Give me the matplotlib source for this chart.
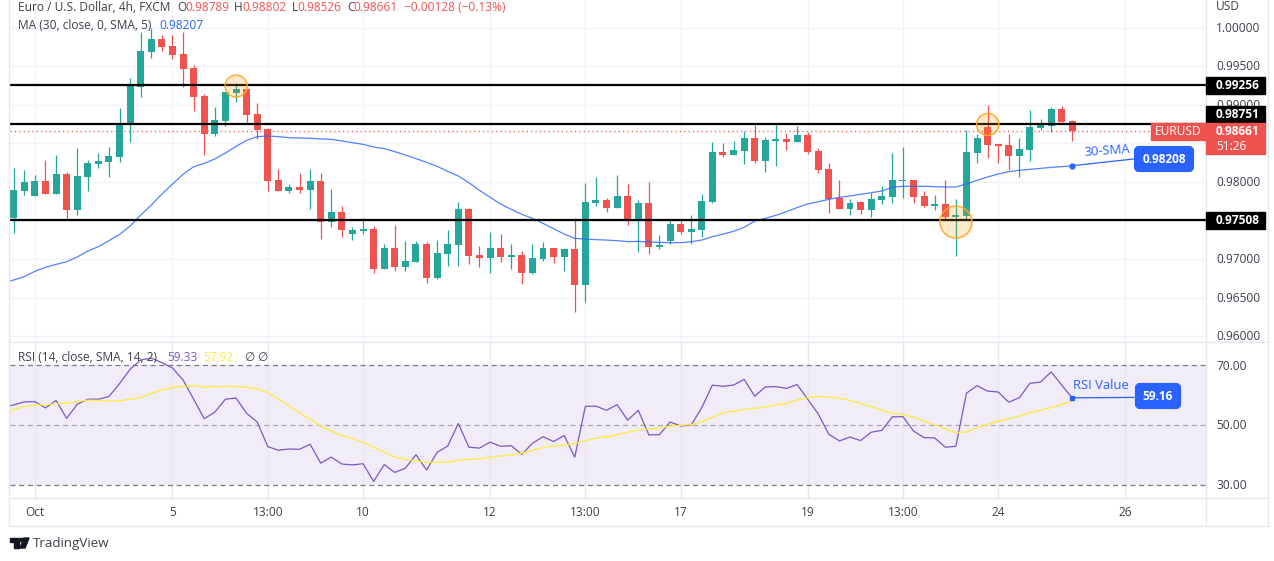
import pandas as pd
import matplotlib.pyplot as plt
import numpy as np
from matplotlib.patches import FancyBboxPatch, Polygon, Rectangle

plt.rcParams['font.family'] = ['Open Sans', 'DejaVu Sans']
plt.rcParams['font.size'] = 8.6

# Candles: open, high, low, close
candles = pd.DataFrame([
    (.97532,.98182,.97342,.97896),(.97883,.98156,.97831,.98000),(.97818,.98091,.97818,.98013),(.98013,.98286,.97844,.97844),
    (.97844,.98351,.97844,.98104),(.98104,.98130,.97519,.97636),(.97636,.98441,.97571,.98078),(.98065,.98286,.97883,.98247),
    (.98234,.98377,.98182,.98273),(.98260,.98454,.98065,.98338),(.98325,.98961,.98260,.98753),(.98740,.99351,.98520,.99247),
    (.99234,.99948,.99104,.99701),(.99688,.99996,.99610,.99857),(.99857,.99909,.99701,.99753),(.99766,.99909,.99597,.99649),
    (.99662,.99948,.99234,.99468),(.99481,.99520,.98922,.99104),(.99117,.99143,.98351,.98623),(.98623,.98974,.98597,.98805),
    (.98792,.99169,.98727,.99169),(.99156,.99282,.99039,.99208),(.99208,.99208,.98753,.98870),(.98883,.99026,.98559,.98675),
    (.98688,.98701,.97883,.98013),(.98026,.98169,.97883,.97883),(.97883,.97974,.97857,.97935),(.97935,.98117,.97857,.97896),
    (.97896,.98169,.97649,.98013),(.98013,.98117,.97259,.97480),(.97480,.97909,.97415,.97610),(.97610,.97688,.97281,.97376),
    (.97324,.97415,.97246,.97376),(.97363,.97532,.97324,.97389),(.97389,.97428,.96818,.96870),(.96870,.97195,.96870,.97143),
    (.97143,.97441,.96844,.96896),(.96896,.97234,.96844,.96974),(.96961,.97234,.96961,.97195),(.97195,.97221,.96688,.96753),
    (.96753,.97246,.96740,.97078),(.97065,.97376,.96909,.97195),(.97182,.97740,.96909,.97649),(.97649,.97662,.96935,.97039),
    (.97052,.97169,.96896,.97013),(.97013,.97350,.96818,.97143),(.97143,.97324,.96961,.97026),(.97026,.97195,.96870,.97052),
    (.97052,.97104,.96675,.96818),(.96818,.97195,.96805,.97013),(.97000,.97221,.96974,.97143),(.97143,.97143,.96948,.97026),
    (.97026,.97143,.96844,.97130),(.97130,.97532,.96312,.96662),(.96662,.97987,.96441,.97740),(.97727,.98065,.97688,.97766),
    (.97766,.97792,.97610,.97662),(.97662,.98091,.97662,.97818),(.97818,.97974,.97441,.97493),(.97493,.97766,.97091,.97727),
    (.97727,.98000,.97065,.97156),(.97156,.97311,.97130,.97182),(.97234,.97506,.97195,.97454),(.97454,.97519,.97324,.97350),
    (.97350,.97571,.97195,.97389),(.97376,.97844,.97285,.97753),(.97740,.98520,.97727,.98385),(.98385,.98507,.98325,.98351),
    (.98351,.98533,.98351,.98411),(.98398,.98662,.98234,.98572),(.98572,.98740,.98247,.98273),(.98273,.98585,.98130,.98546),
    (.98533,.98753,.98208,.98559),(.98559,.98636,.98411,.98520),(.98520,.98727,.98520,.98610),(.98610,.98649,.98364,.98385),
    (.98398,.98441,.98117,.98156),(.98169,.98247,.97597,.97779),(.97792,.98026,.97649,.97649),(.97649,.97779,.97571,.97727),
    (.97740,.97753,.97584,.97636),(.97636,.97857,.97545,.97779),(.97766,.97948,.97714,.97818),(.97805,.98377,.97727,.98026),
    (.98013,.98454,.97792,.98026),(.98026,.98026,.97727,.97805),(.97818,.97883,.97675,.97688),(.97688,.97831,.97636,.97714),
    (.97714,.98026,.97519,.97545),(.97545,.97779,.97039,.97571),(.97558,.98675,.97519,.98385),(.98377,.98623,.98247,.98572),
    (.98714,.99000,.98312,.98480),(.98493,.98493,.98247,.98467),(.98480,.98623,.98156,.98338),(.98338,.98572,.98065,.98429),
    (.98416,.98935,.98273,.98714),(.98701,.98818,.98675,.98740),(.98727,.98974,.98649,.98948),(.98948,.98987,.98779,.98779),
    (.98789,.98802,.98526,.98661)], columns=['open','high','low','close'])

# 30-SMA, first value belongs to the bar just off the left edge
sma = [.96692,.96727,.96770,.96840,.96892,.96930,.96965,.97026,.97104,.97160,.97238,.97320,.97429,.97571,.97701,.97844,.97974,
       .98100,.98199,.98242,.98299,.98377,.98463,.98541,.98589,.98597,.98589,.98576,.98572,.98567,.98559,.98554,.98533,.98511,
       .98489,.98454,.98433,.98394,.98351,.98303,.98255,.98203,.98138,.98078,.97991,.97892,.97801,.97714,.97645,.97580,.97528,
       .97463,.97394,.97324,.97268,.97259,.97251,.97246,.97238,.97225,.97229,.97221,.97216,.97212,.97212,.97225,.97246,.97290,
       .97324,.97359,.97411,.97493,.97528,.97567,.97615,.97667,.97714,.97744,.97775,.97801,.97818,.97840,.97861,.97883,.97931,
       .97944,.97944,.97944,.97940,.97935,.97935,.97974,.98022,.98065,.98104,.98134,.98152,.98165,.98177,.98190,.98199,.98212]

# RSI and its average, same bars as the SMA
rsi = [55.9,56.8,57.8,57.9,55.8,58.3,52.3,57.0,58.7,58.7,59.6,63.9,68.7,71.8,72.4,70.9,69.1,65.1,58.7,52.2,54.4,58.7,59.1,
       54.0,51.1,42.9,41.7,42.1,42.0,43.7,37.4,39.4,37.1,36.8,37.2,31.3,36.9,34.3,35.7,40.2,35.1,41.0,43.1,50.6,42.7,42.4,44.4,
       43.0,43.2,40.3,44.0,46.2,44.6,46.6,39.4,56.3,56.4,55.0,56.9,51.7,55.0,46.8,46.9,51.1,49.8,50.1,55.9,63.4,63.0,63.4,65.3,
       59.7,62.8,62.9,62.3,63.6,58.7,53.8,47.0,44.8,46.1,44.9,47.7,48.3,52.8,52.9,48.1,45.9,45.8,42.7,43.0,60.7,63.2,61.4,61.1,
       57.7,59.2,64.0,64.4,67.8,63.4,59.16]
rsi_ma = [53.4,55.3,56.3,56.7,56.9,57.2,57.3,57.9,58.4,58.3,58.1,58.1,58.7,59.2,60.7,61.8,62.6,63.0,63.2,62.8,62.9,63.0,63.0,62.7,
          62.2,60.9,58.8,56.6,54.2,52.0,49.8,48.1,46.6,45.7,44.3,42.7,41.1,39.4,38.7,38.1,37.7,37.7,37.7,38.3,38.7,38.8,39.3,39.8,
          40.1,40.7,41.7,42.6,43.1,43.4,43.9,44.9,45.7,46.1,46.9,47.7,48.4,48.8,49.1,49.7,50.0,50.2,51.2,52.6,54.2,54.7,55.3,55.7,
          56.1,56.8,57.3,58.4,59.2,59.6,59.4,59.0,58.3,57.3,56.2,55.1,54.1,53.6,52.7,51.4,50.2,48.8,47.6,47.8,49.1,50.3,51.3,52.2,
          53.1,54.2,55.0,55.9,57.0,58.0]

# Bars where the time axis has a label
time_ticks = {2:'Oct', 15:'5', 24:'13:00', 33:'10', 45:'12', 54:'13:00', 63:'17', 75:'19', 84:'13:00', 93:'24', 105:'26'}
levels = [0.99256, 0.98751, 0.97508]
up = '#26a69a'
down = '#ef5350'
blue = '#2962ff'
W, H = 1274, 561

# Function to plot the candles, the SMA and the support and resistance lines
def plot_price(candles, sma):
    plt.axes([10/W, 1-342/H, 1196/W, 342/H])
    x = np.arange(len(candles))
    colors = [up if c >= o else down for o, c in zip(candles['open'], candles['close'])]
    plt.grid(color='#f0f3fa', linewidth=1)
    plt.vlines(x, candles['low'], candles['high'], color=colors, linewidth=0.9, zorder=3)
    body = (candles['close'] - candles['open']).abs().clip(lower=0.00012)
    plt.bar(x, body, 0.66, bottom=candles[['open','close']].min(axis=1), color=colors, zorder=3)
    plt.plot(np.arange(-1, 101), sma, color=blue, linewidth=0.9, alpha=0.8, zorder=4)
    plt.plot([100, 105.8], [sma[-1], 0.98299], color=blue, linewidth=0.9, zorder=4)
    plt.plot(100, sma[-1], 'o', color=blue, markersize=3.5, zorder=5)
    plt.axhline(0.98661, color=down, linewidth=0.9, linestyle=(0, (1, 2.5)), zorder=2)
    for level in levels:
        plt.axhline(level, color='black', linewidth=1.6, zorder=4)
    # Orange circles around the rejections
    plt.scatter([21, 92], [0.99247, 0.98747], s=251, color='#ff9800', alpha=0.2, zorder=5)
    plt.scatter([21, 92], [0.99247, 0.98747], s=251, facecolor='none', edgecolor='#ffa726', linewidth=0.9, zorder=5)
    plt.scatter([89], [0.97481], s=531, color='#ff9800', alpha=0.2, zorder=5)
    plt.scatter([89], [0.97481], s=531, facecolor='none', edgecolor='#ffa726', linewidth=0.9, zorder=5)
    plt.xlim(-0.35, 112.63)
    plt.ylim(0.959221, 1.003636)
    plt.xticks(list(time_ticks), [])
    plt.yticks([0.96, 0.965, 0.97, 0.975, 0.98, 0.985, 0.99, 0.995, 1.0], [])
    plt.tick_params(length=0)
    for side in plt.gca().spines.values():
        side.set_visible(False)

# Function to plot the RSI pane
def plot_rsi(rsi, rsi_ma):
    plt.axes([10/W, 1-498/H, 1196/W, 156/H])
    plt.axhspan(30, 70, color='#f0ecf8', linewidth=0)
    plt.grid(axis='x', color='#e6e6ee', linewidth=1)
    plt.axhline(70, color='#787b86', linewidth=0.9, dashes=(4, 3))
    plt.axhline(50, color='#a8a8b2', linewidth=0.9, dashes=(4, 3))
    plt.axhline(30, color='#787b86', linewidth=0.9, dashes=(4, 3))
    plt.plot(np.arange(-1, 101), rsi, color='#7e57c2', linewidth=0.9, zorder=3)
    plt.plot(np.arange(-1, 101), rsi_ma, color='#ffeb3b', linewidth=0.9, zorder=3)
    plt.plot([100, 105.8], [rsi[-1], 59.3], color=blue, linewidth=0.9, zorder=4)
    plt.plot(100, rsi[-1], 's', color=blue, markersize=3, zorder=5)
    plt.xlim(-0.35, 112.63)
    plt.ylim(25.77, 77.77)
    plt.xticks(list(time_ticks), [])
    plt.yticks([])
    plt.tick_params(length=0)
    for side in plt.gca().spines.values():
        side.set_visible(False)

# Function to write the labels and price boxes, coordinates here are pixels
def plot_labels():
    plt.axes([0, 0, 1, 1], facecolor='none')
    plt.xlim(0, W)
    plt.ylim(H, 0)
    plt.axis('off')
    ax = plt.gca()
    dark = '#3c3f4a'

    for x0, y0, x1, y1 in [(9,0,9,526),(1206,0,1206,526),(1268,0,1268,526),(9,342,1268,342),(9,498,1268,498),(9,526,1268,526)]:
        plt.plot([x0, x1], [y0, y1], color='#e6e8ef', linewidth=1)

    def label(x, y, s, color=dark, **kw):
        plt.text(x, y, s, color=color, va='center', **kw)

    label(18, 7, 'Euro / U.S. Dollar, 4h, FXCM')
    for x, s in [(177,'O'), (234,'H'), (292,'L'), (347,'C')]:
        label(x, 7, s)
    for x, s in [(185,'0.98789'), (242,'0.98802'), (297,'0.98526'), (353,'0.98661'), (404,'−0.00128 (−0.13%)')]:
        label(x, 7, s, color=down)
    label(18, 25, 'MA (30, close, 0, SMA, 5)')
    label(159, 25, '0.98207', color=blue)
    label(18, 357, 'RSI (14, close, SMA, 14, 2)')
    label(167, 357, '59.33', color='#7e57c2')
    label(203, 357, '57.92', color='#ffeb3b')
    label(244, 357, '∅')
    label(257, 357, '∅')

    # Right hand axis
    label(1216, 6, 'USD')
    for y, s in [(28,'1.00000'), (66.5,'0.99500'), (105,'0.99000'), (182.5,'0.98000'), (259.5,'0.97000'),
                 (298,'0.96500'), (336,'0.96000'), (366,'70.00'), (425,'50.00'), (485,'30.00')]:
        label(1216, y, s)
    for y0, y1, s in [(77,94,'0.99256'), (106,123,'0.98751'), (212,229,'0.97508')]:
        ax.add_patch(Rectangle((1206, y0), 59, y1-y0, color='black', zorder=5))
        plt.text(1216, (y0+y1)/2, s, color='white', va='center', fontweight='bold', zorder=6)
    ax.add_patch(Rectangle((1206, 123), 59, 31, color=down, zorder=5))
    ax.add_patch(Rectangle((1151, 123), 54, 17, color=down, zorder=5))
    plt.text(1178, 131.5, 'EURUSD', color='white', va='center', ha='center', zorder=6)
    plt.text(1216, 131.5, '0.98661', color='white', va='center', fontweight='bold', zorder=6)
    plt.text(1216, 146, '51:26', color='white', va='center', zorder=6)

    # Blue callouts
    for x0, y0, w, h, s in [(1136,148,56,22,'0.98208'), (1137,385,42,22,'59.16')]:
        ax.add_patch(FancyBboxPatch((x0, y0), w, h, boxstyle='round,pad=0,rounding_size=3', mutation_aspect=1,
                                    facecolor=blue, edgecolor=blue, linewidth=3, zorder=5))
        plt.text(x0+w/2, y0+h/2, s, color='white', ha='center', va='center', fontweight='bold', zorder=6)
    plt.text(1107, 151, '30-SMA', color=blue, fontsize=9.4, ha='center', va='center', rotation=4)
    plt.text(1101, 385, 'RSI Value', color=blue, fontsize=9.4, ha='center', va='center')

    # Time axis
    for i, s in time_ticks.items():
        plt.text(13.7 + 10.586*i, 512, s, color=dark, ha='center', va='center')

    # Logo at the bottom
    ax.add_patch(Polygon([(10,538),(19,538),(19,548),(14,548),(14,542),(10,542)], color='#131722'))
    ax.add_patch(Polygon([(24,538),(29,538),(25,548),(20,548)], color='#131722'))
    ax.add_patch(Rectangle((19.5, 538), 3, 3, color='#131722'))
    plt.text(33, 543, 'TradingView', color=dark, fontsize=9.6, va='center')

plt.figure(figsize=(W/100, H/100), dpi=100)
plot_price(candles, sma)
plot_rsi(rsi, rsi_ma)
plot_labels()
plt.savefig('out.png', dpi=100)
